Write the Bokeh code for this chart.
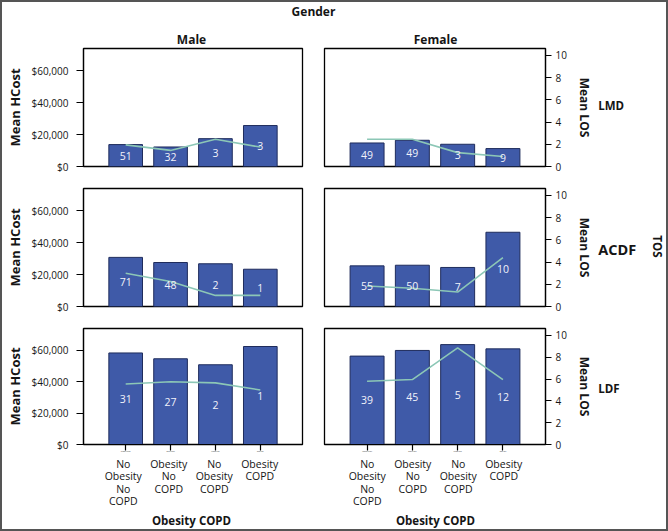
from bokeh.plotting import figure
from bokeh.layouts import column, row
from bokeh.models import (FactorRange, Range1d, LinearAxis, CategoricalAxis, Label,
                          NumeralTickFormatter, FixedTicker)
from bokeh.embed import file_html
from bokeh.resources import INLINE
from bokeh.core.properties import value

# ---------------- data ----------------
categories = ["No Obesity No COPD", "Obesity No COPD", "No Obesity COPD", "Obesity COPD"]
tick_labels = ["No\nObesity\nNo\nCOPD", "Obesity\nNo\nCOPD", "No\nObesity\nCOPD", "Obesity\nCOPD"]
procedures = ["LMD", "ACDF", "LDF"]
genders = ["Male", "Female"]

male_lmd_cost = [13700, 12200, 17400, 25600]
male_lmd_los = [1.95, 1.45, 2.45, 1.75]
male_lmd_n = [51, 32, 3, 3]

female_lmd_cost = [14700, 16400, 13900, 11200]
female_lmd_los = [2.45, 2.45, 1.25, 0.9]
female_lmd_n = [49, 49, 3, 9]

male_acdf_cost = [30700, 27500, 26700, 23300]
male_acdf_los = [3.0, 2.25, 1.0, 1.0]
male_acdf_n = [71, 48, 2, 1]

female_acdf_cost = [25400, 25800, 24400, 46400]
female_acdf_los = [1.85, 1.65, 1.3, 4.4]
female_acdf_n = [55, 50, 7, 10]

male_ldf_cost = [58200, 54500, 50700, 62300]
male_ldf_los = [5.55, 5.75, 5.65, 5.0]
male_ldf_n = [31, 27, 2, 1]

female_ldf_cost = [56200, 59800, 63500, 60800]
female_ldf_los = [5.8, 5.95, 8.85, 5.95]
female_ldf_n = [39, 45, 5, 12]

cost_ticks = [0, 20000, 40000, 60000]
los_ticks = [0, 2, 4, 6, 8, 10]

data = {
    ("Male", "LMD"): (male_lmd_cost, male_lmd_los, male_lmd_n),
    ("Female", "LMD"): (female_lmd_cost, female_lmd_los, female_lmd_n),
    ("Male", "ACDF"): (male_acdf_cost, male_acdf_los, male_acdf_n),
    ("Female", "ACDF"): (female_acdf_cost, female_acdf_los, female_acdf_n),
    ("Male", "LDF"): (male_ldf_cost, male_ldf_los, male_ldf_n),
    ("Female", "LDF"): (female_ldf_cost, female_ldf_los, female_ldf_n),
}

# ---------------- layout / style ----------------
FONT = "Open Sans"
BAR_FILL = "#3F5AA8"
BAR_LINE = "#1F2C5C"
LINE_COL = "#8CC7B6"
TXT = "#151515"
FRAME_W, FRAME_H = 222, 118
PAD = 0.44
MALE_W, FEMALE_W, LAB_W = 311, 282, 71
MALE_BL, MALE_BR = 78, 11
FEM_BL, FEM_BR = 11, 49
HEADER_H = 44
ROW_H = [131, 140, 137]
BORDERS_TB = [(2, 11), (11, 11), (11, 8)]
STRIP_H = 75
ROW_LABEL_Y = [63, 72, 71]


def style_axis(ax):
    ax.axis_line_color = "black"
    ax.axis_line_width = 1.2
    ax.major_tick_line_color = "black"
    ax.major_tick_line_width = 1.2
    ax.minor_tick_line_color = None
    ax.major_tick_in = 0
    ax.major_label_text_font = FONT
    ax.major_label_text_color = TXT
    ax.axis_label_text_font = FONT
    ax.axis_label_text_font_style = "bold"
    ax.axis_label_text_color = TXT


def xrange():
    return FactorRange(factors=categories, range_padding=PAD, range_padding_units="absolute")


def base_fig(w, h, x_range, y_range, bl, br, bt, bb):
    f = figure(width=w, height=h, x_range=x_range, y_range=y_range,
               output_backend="svg", toolbar_location=None, title=None,
               x_axis_location=None, y_axis_location=None,
               min_border_left=bl, min_border_right=br,
               min_border_top=bt, min_border_bottom=bb)
    f.background_fill_color = "white"
    f.border_fill_color = "white"
    f.grid.visible = False
    return f


def make_panel(gender, proc, r):
    cost, los, n = data[(gender, proc)]
    is_left = gender == "Male"
    top_b, bot_b = BORDERS_TB[r]
    p = base_fig(MALE_W if is_left else FEMALE_W, ROW_H[r], xrange(), Range1d(0, 73750),
                 MALE_BL if is_left else FEM_BL, MALE_BR if is_left else FEM_BR, top_b, bot_b)
    p.extra_y_ranges = {"los": Range1d(0, 10.63)}
    p.outline_line_color = "black"
    p.outline_line_width = 1.3
    p.outline_line_alpha = 1.0

    p.vbar(x=categories, top=cost, width=0.75, fill_color=BAR_FILL,
           line_color=BAR_LINE, line_width=1)
    p.line(x=categories, y=los, y_range_name="los", line_color=LINE_COL, line_width=1.6)
    p.text(x=categories, y=[c / 2 for c in cost], text=[str(v) for v in n],
           text_color="#F2F2FA", text_align="center", text_baseline="middle",
           text_font=value(FONT), text_font_size=value("10.5px"))

    if is_left:
        ax = LinearAxis(ticker=FixedTicker(ticks=cost_ticks),
                        formatter=NumeralTickFormatter(format="$0,0"))
        style_axis(ax)
        ax.axis_label = "Mean HCost"
        ax.axis_label_text_font_size = "13px"
        ax.major_label_text_font_size = "10px"
        ax.major_tick_out = 7
        ax.major_label_standoff = 8
        ax.axis_label_standoff = 5
        p.add_layout(ax, "left")
    else:
        ax = LinearAxis(y_range_name="los", ticker=FixedTicker(ticks=los_ticks))
        style_axis(ax)
        ax.axis_label = "Mean LOS"
        ax.axis_label_text_font_size = "12px"
        ax.major_label_text_font_size = "10px"
        ax.major_tick_out = 6
        ax.major_label_standoff = 4
        ax.axis_label_standoff = 6
        p.add_layout(ax, "right")

    if r == 2:
        bx = CategoricalAxis(major_label_overrides={c: "" for c in categories})
        style_axis(bx)
        bx.major_label_text_font_size = "1px"
        bx.major_label_standoff = 0
        bx.major_tick_out = 6
        p.add_layout(bx, "below")
    return p


def make_row_label(proc, r):
    h = ROW_H[r]
    f = base_fig(LAB_W, h, Range1d(0, LAB_W), Range1d(h, 0), 0, 0, 0, 0)
    f.outline_line_color = None
    f.add_layout(Label(x=2.7, y=ROW_LABEL_Y[r], text=proc, text_font=FONT, text_font_style="bold",
                       text_font_size="14.5px" if proc == "ACDF" else "11.5px",
                       text_align="left", text_baseline="middle", text_color=TXT))
    if proc == "ACDF":
        f.add_layout(Label(x=61.7, y=68.7, text="TOS", text_font=FONT, text_font_style="bold",
                           text_font_size="11.5px", angle=-1.5708,
                           text_align="center", text_baseline="middle", text_color=TXT))
    return f


def make_strip(w, bl, br):
    f = base_fig(w, STRIP_H, xrange(), Range1d(STRIP_H, 0), bl, br, 0, 0)
    f.outline_line_color = None
    xs, ys, ts = [], [], []
    for c, lab in zip(categories, tick_labels):
        for i, line in enumerate(lab.split("\n")):
            xs.append(c)
            ys.append(9.3 + 12.4 * i)
            ts.append(line)
    f.text(x=xs, y=ys, text=ts, text_color=TXT, text_align="center", text_baseline="middle",
           text_font=value(FONT), text_font_size=value("10.5px"))
    f.add_layout(Label(x=len(categories) / 2, y=66, text="Obesity COPD", text_font=FONT,
                       text_font_style="bold", text_font_size="11.5px", text_align="center",
                       text_baseline="middle", text_color=TXT))
    return f


# header with facet titles
HW = MALE_W + FEMALE_W + LAB_W
header = base_fig(HW, HEADER_H, Range1d(0, HW), Range1d(HEADER_H, 0), 0, 0, 0, 0)
header.outline_line_color = None
header.add_layout(Label(x=311, y=9, text="Gender", text_font=FONT, text_font_style="bold",
                        text_font_size="12px", text_align="center", text_baseline="middle",
                        text_color=TXT))
for g, cxp in zip(genders, [189, 433]):
    header.add_layout(Label(x=cxp, y=36.5, text=g, text_font=FONT, text_font_style="bold",
                            text_font_size="12px", text_align="center", text_baseline="middle",
                            text_color=TXT))

rows = []
for r, proc in enumerate(procedures):
    rows.append(row(make_panel("Male", proc, r), make_panel("Female", proc, r),
                    make_row_label(proc, r), spacing=0))
strip = row(make_strip(MALE_W, MALE_BL, MALE_BR),
            make_strip(FEMALE_W + LAB_W, FEM_BL, FEM_BR + LAB_W), spacing=0)

p = column(header, *rows, strip, spacing=0, styles={"border": "2px solid #555555"})

open("out.html", "w").write(file_html(p, INLINE))
